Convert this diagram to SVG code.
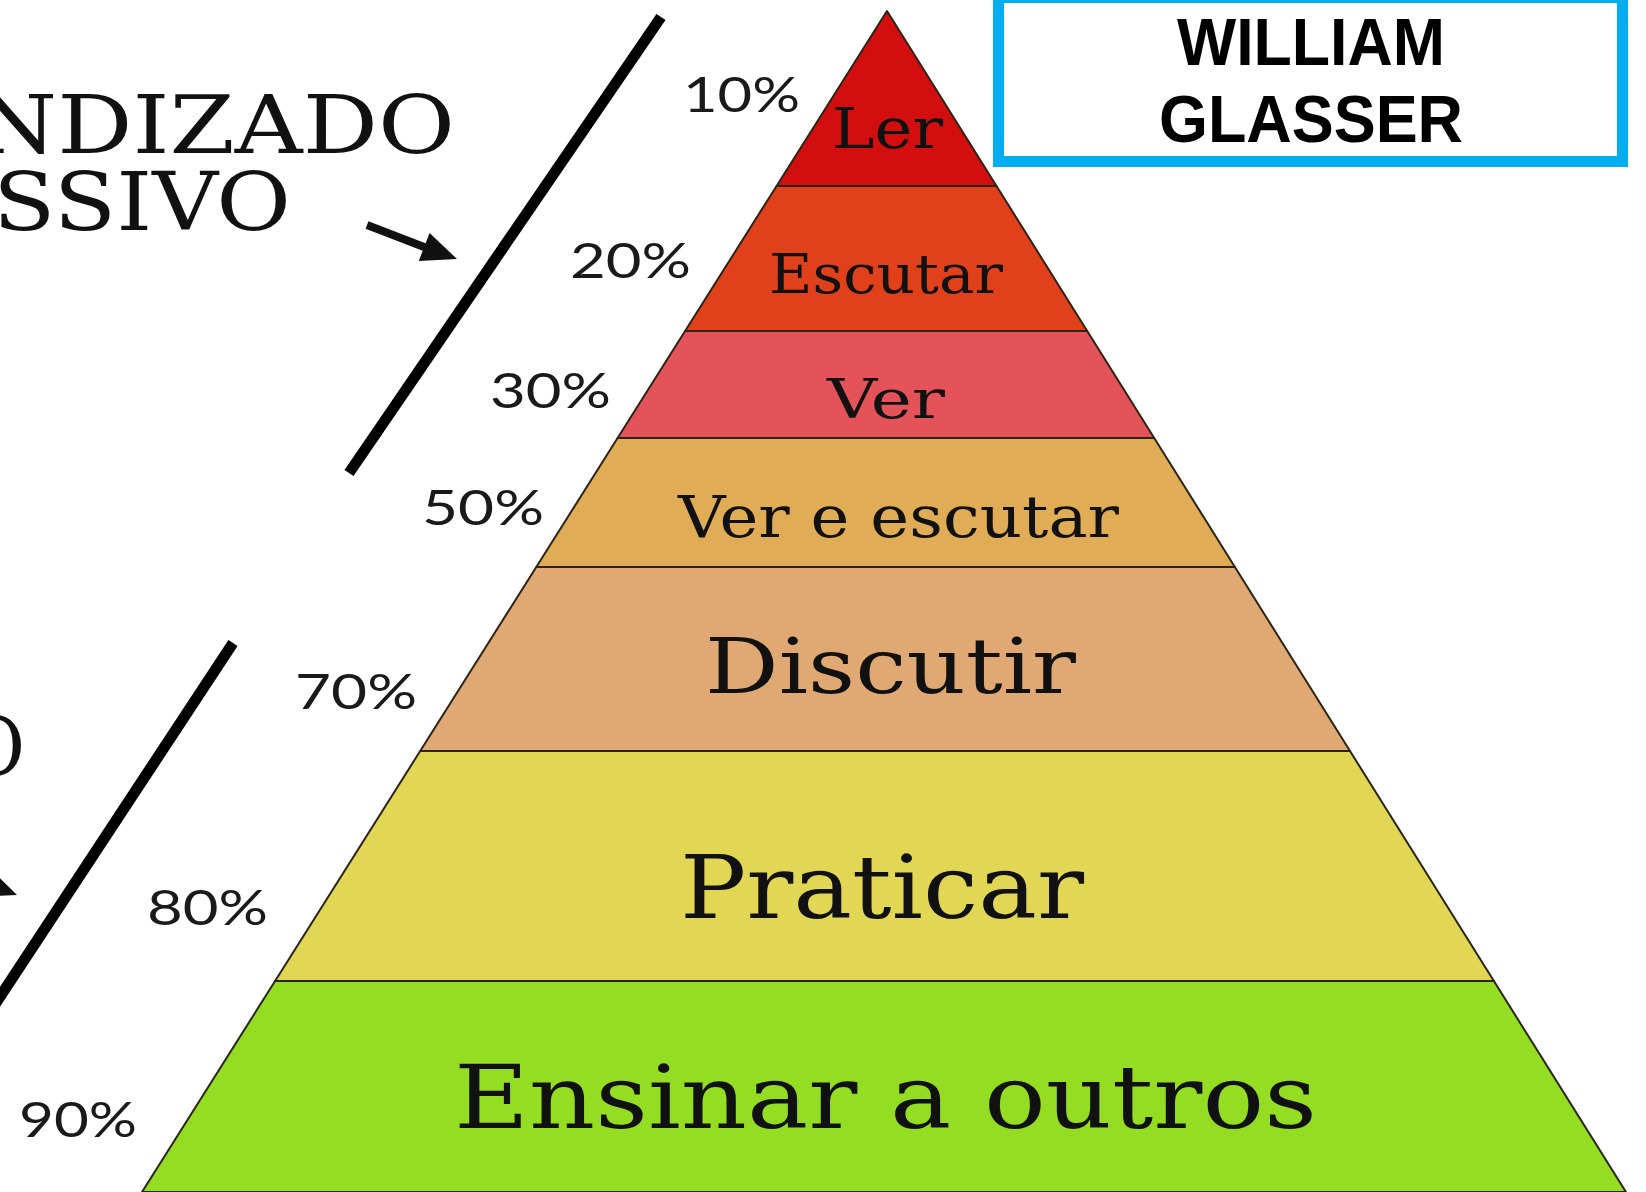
<svg xmlns="http://www.w3.org/2000/svg" width="1646" height="1192" viewBox="0 0 1646 1192">
  <style>
    .layer { stroke: #2b2416; stroke-width: 2; stroke-linejoin: round; }
    .lbl { font-family: "DejaVu Serif", "Liberation Serif", serif; fill: #111; }
    .pct { font-family: Lato, "DejaVu Sans", sans-serif; fill: #1a1a1a; font-size: 48px; }
    .side { font-family: "DejaVu Serif", "Liberation Serif", serif; fill: #111; font-size: 80px; }
    .title { font-family: "Liberation Sans", Arial, sans-serif; font-weight: bold; fill: #000; font-size: 66px; text-anchor: middle; }
    .bar { stroke: #000; stroke-width: 11; fill: none; }
  </style>
  <rect width="1646" height="1192" fill="#ffffff"/>

  <g id="side-labels">
    <text class="side" x="455" y="153" text-anchor="end" textLength="480" lengthAdjust="spacingAndGlyphs">NDIZADO</text>
    <text class="side" x="291" y="230" text-anchor="end" textLength="298" lengthAdjust="spacingAndGlyphs">SSIVO</text>
    <text class="side" x="25" y="775" text-anchor="end" textLength="60" lengthAdjust="spacingAndGlyphs">O</text>
  </g>

  <g id="connectors">
    <line class="bar" x1="661" y1="17" x2="349" y2="473"/>
    <line class="bar" x1="233" y1="643" x2="-20" y2="1027" stroke-width="12"/>
    <line x1="367" y1="225" x2="428" y2="248.5" stroke="#111" stroke-width="8"/>
    <polygon points="457,259 418.8,260.9 429.6,232.9" fill="#111"/>
    <line x1="-80" y1="858" x2="-12" y2="884" stroke="#111" stroke-width="8"/>
    <polygon points="17,895 -20.2,896.9 -9.4,868.9" fill="#111"/>
  </g>

  <g id="layer-ler">
    <polygon class="layer" fill="#D20F0E" points="887,11 996.5,186 776.6,186"/>
    <text class="lbl" x="832" y="148" font-size="56" textLength="111" lengthAdjust="spacingAndGlyphs">Ler</text>
    <text class="pct" x="683" y="112" textLength="117" lengthAdjust="spacingAndGlyphs">10%</text>
  </g>
  <g id="layer-escutar">
    <polygon class="layer" fill="#E1411A" points="776.6,186 996.5,186 1087.2,331 685.1,331"/>
    <text class="lbl" x="769" y="293" font-size="55" textLength="234" lengthAdjust="spacingAndGlyphs">Escutar</text>
    <text class="pct" x="570" y="278" textLength="121" lengthAdjust="spacingAndGlyphs">20%</text>
  </g>
  <g id="layer-ver">
    <polygon class="layer" fill="#E45359" points="685.1,331 1087.2,331 1154.2,438 617.6,438"/>
    <text class="lbl" x="827" y="418" font-size="55" textLength="118" lengthAdjust="spacingAndGlyphs">Ver</text>
    <text class="pct" x="490" y="408" textLength="121" lengthAdjust="spacingAndGlyphs">30%</text>
  </g>
  <g id="layer-ver-e-escutar">
    <polygon class="layer" fill="#E1AC56" points="617.6,438 1154.2,438 1234.9,567 536.3,567"/>
    <text class="lbl" x="678" y="537" font-size="57" textLength="441" lengthAdjust="spacingAndGlyphs">Ver e escutar</text>
    <text class="pct" x="422" y="525" textLength="122" lengthAdjust="spacingAndGlyphs">50%</text>
  </g>
  <g id="layer-discutir">
    <polygon class="layer" fill="#E0A872" points="536.3,567 1234.9,567 1350,751 420.2,751"/>
    <text class="lbl" x="705" y="693" font-size="76" textLength="371" lengthAdjust="spacingAndGlyphs">Discutir</text>
    <text class="pct" x="295" y="709" textLength="122" lengthAdjust="spacingAndGlyphs">70%</text>
  </g>
  <g id="layer-praticar">
    <polygon class="layer" fill="#E2D655" points="420.2,751 1350,751 1493.9,981 275.1,981"/>
    <text class="lbl" x="680" y="918" font-size="88" textLength="404" lengthAdjust="spacingAndGlyphs">Praticar</text>
    <text class="pct" x="147" y="925" textLength="121" lengthAdjust="spacingAndGlyphs">80%</text>
  </g>
  <g id="layer-ensinar">
    <polygon class="layer" fill="#95DD22" points="275.1,981 1493.9,981 1626,1192 142,1192"/>
    <text class="lbl" x="454" y="1128" font-size="87" textLength="863" lengthAdjust="spacingAndGlyphs">Ensinar a outros</text>
    <text class="pct" x="19" y="1137" textLength="118" lengthAdjust="spacingAndGlyphs">90%</text>
  </g>

  <g id="title-box">
    <rect x="998.5" y="-2.5" width="624" height="164" fill="#ffffff" stroke="#00AEEF" stroke-width="11"/>
    <text class="title" x="1311" y="65" textLength="268" lengthAdjust="spacingAndGlyphs">WILLIAM</text>
    <text class="title" x="1311" y="142" textLength="304" lengthAdjust="spacingAndGlyphs">GLASSER</text>
  </g>
</svg>
